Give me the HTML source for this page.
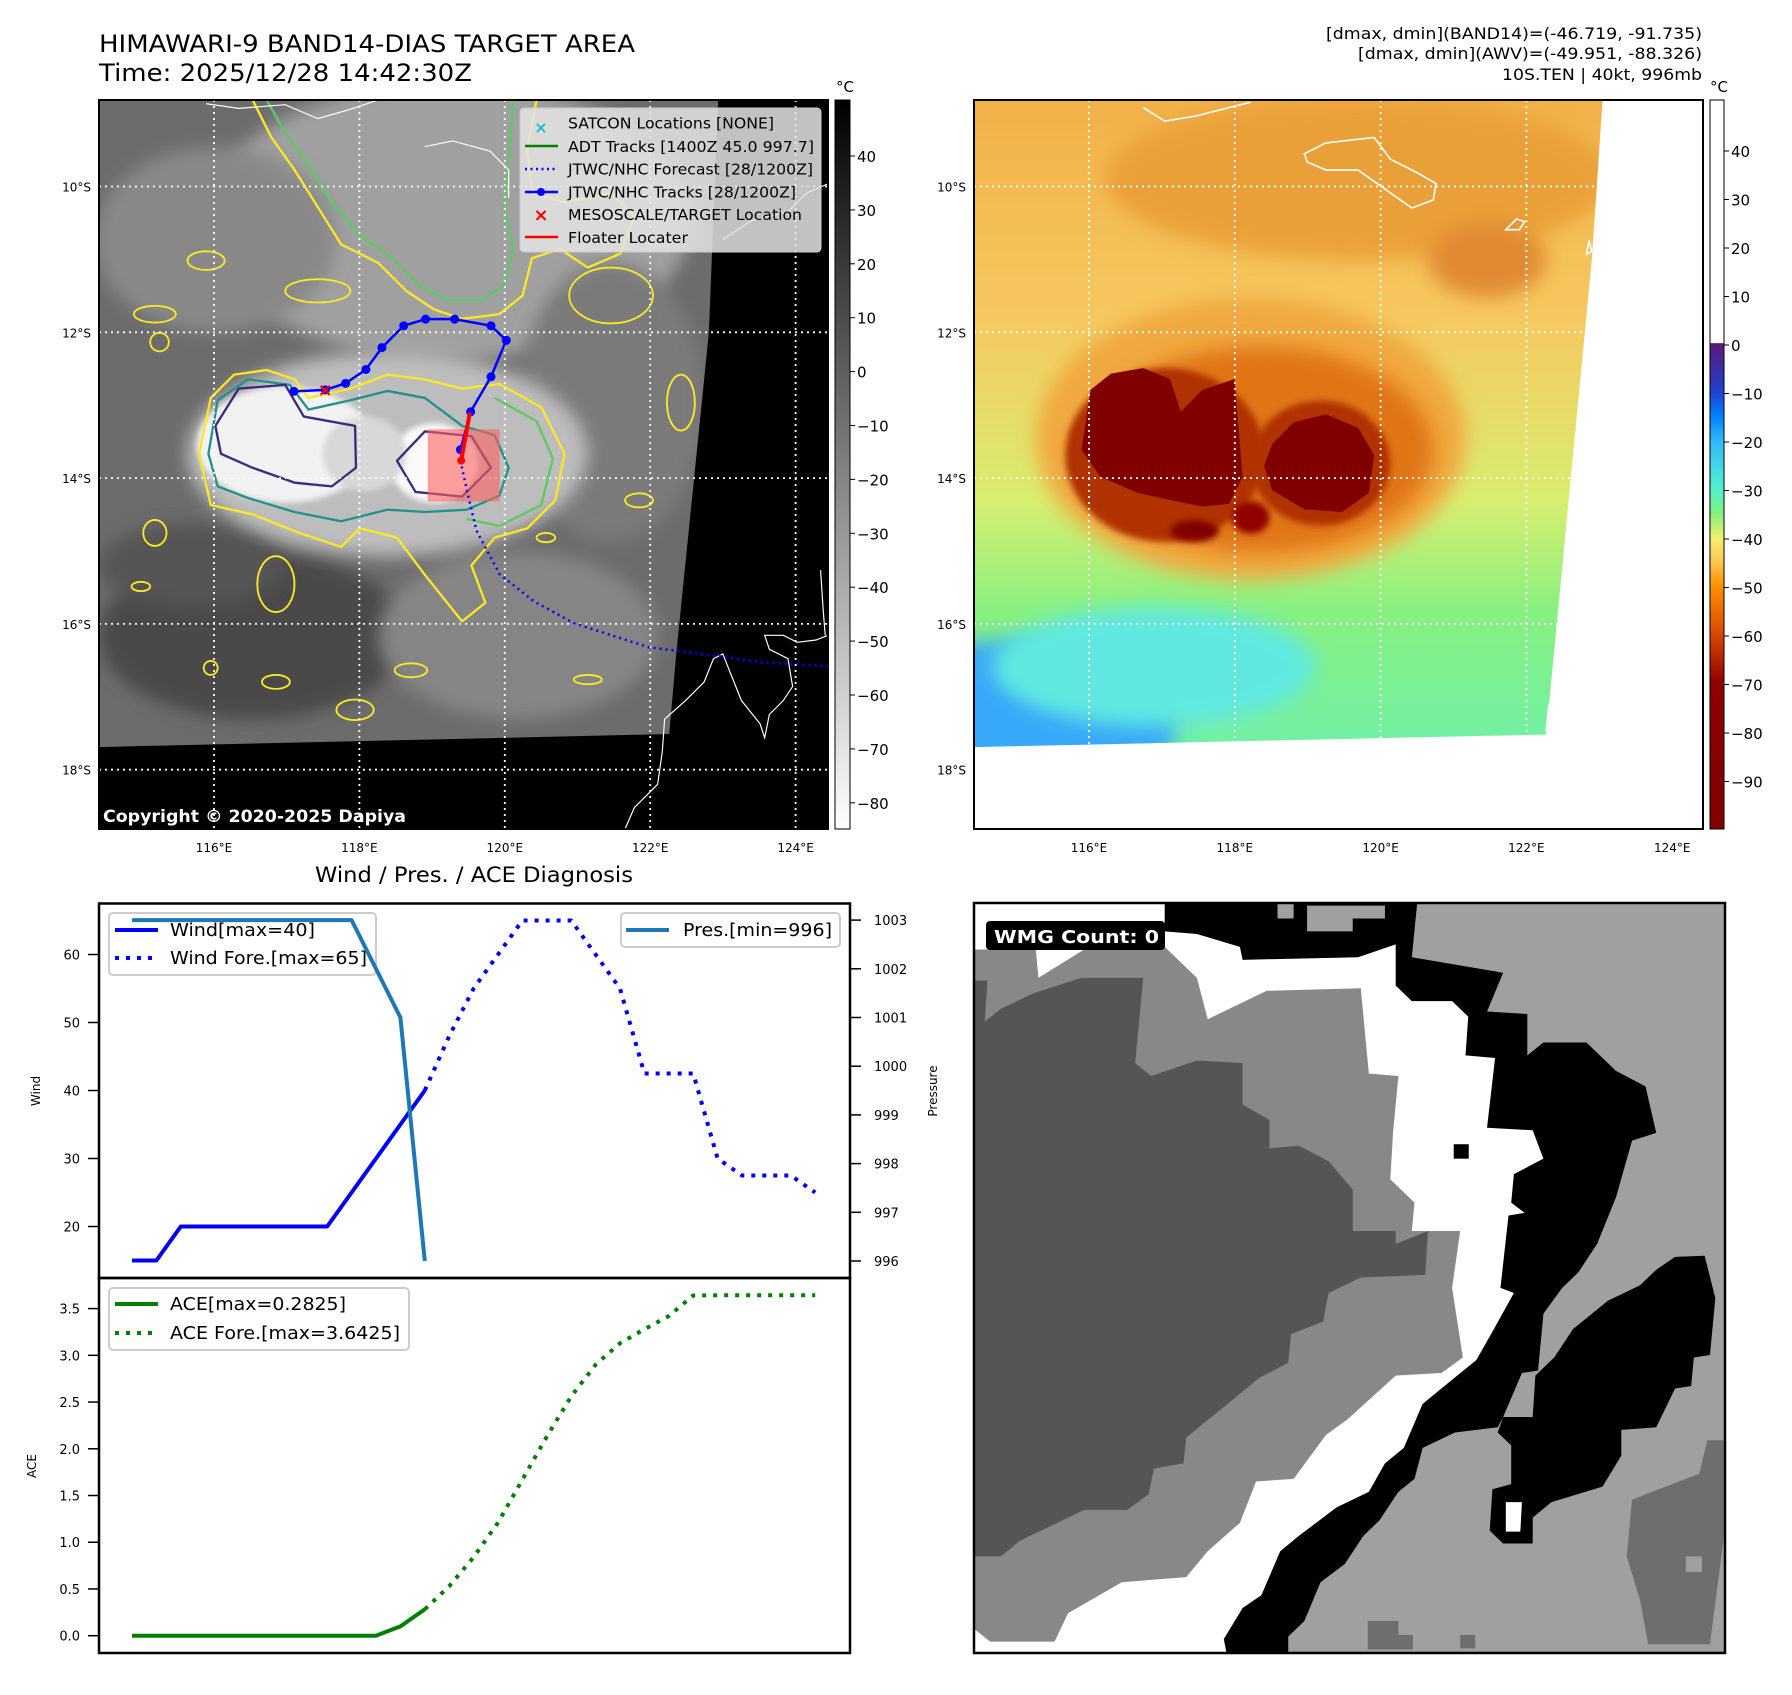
<!DOCTYPE html>
<html><head><meta charset="utf-8"><style>
html,body{margin:0;padding:0;background:#fff;}
svg text{font-family:"DejaVu Sans","Liberation Sans",sans-serif;}
</style></head><body>
<svg id="root" width="1792" height="1690" viewBox="0 0 1792 1690" xmlns="http://www.w3.org/2000/svg">
<defs>
  <filter id="blur8" x="-30%" y="-30%" width="160%" height="160%"><feGaussianBlur stdDeviation="18"/></filter>
  <filter id="blur4" x="-30%" y="-30%" width="160%" height="160%"><feGaussianBlur stdDeviation="6"/></filter>
  <linearGradient id="greyBar" x1="0" y1="0" x2="0" y2="1">
    <stop offset="0" stop-color="#000"/><stop offset="1" stop-color="#fff"/>
  </linearGradient>
  <linearGradient id="tempBar" x1="0" y1="0" x2="0" y2="1">
    <stop offset="0" stop-color="#fff"/><stop offset="0.333" stop-color="#fff"/>
    <stop offset="0.334" stop-color="#5a1a7a"/><stop offset="0.4" stop-color="#2040d0"/>
    <stop offset="0.433" stop-color="#0080ff"/><stop offset="0.467" stop-color="#30b8ff"/>
    <stop offset="0.533" stop-color="#50f0d0"/><stop offset="0.567" stop-color="#80f080"/>
    <stop offset="0.6" stop-color="#f0f070"/><stop offset="0.633" stop-color="#ffc850"/>
    <stop offset="0.667" stop-color="#ff9000"/><stop offset="0.733" stop-color="#d84800"/>
    <stop offset="0.8" stop-color="#900000"/><stop offset="1" stop-color="#800000"/>
  </linearGradient>
  <linearGradient id="rmapGrad" x1="0" y1="0" x2="0" y2="1">
    <stop offset="0" stop-color="#f2b048"/><stop offset="0.3" stop-color="#f6c860"/>
    <stop offset="0.55" stop-color="#d8ee70"/><stop offset="0.7" stop-color="#88f080"/>
    <stop offset="0.9" stop-color="#70f0a8"/><stop offset="1" stop-color="#60f0c0"/>
  </linearGradient>
  <clipPath id="lclip"><polygon points="0,0 1330,0 1310,500 1240,1190 1225,1362 0,1390"/></clipPath>
  <clipPath id="rclip"><polygon points="45,186 1215,186 1195,480 1110,1355 45,1378"/></clipPath>
</defs>

<!-- Titles -->
<text x="99" y="52" font-size="24" textLength="536" lengthAdjust="spacingAndGlyphs">HIMAWARI-9 BAND14-DIAS TARGET AREA</text>
<text x="99" y="81" font-size="24" textLength="373" lengthAdjust="spacingAndGlyphs">Time: 2025/12/28 14:42:30Z</text>
<g font-size="16" text-anchor="end">
  <text x="1702" y="39" textLength="376" lengthAdjust="spacingAndGlyphs">[dmax, dmin](BAND14)=(-46.719, -91.735)</text>
  <text x="1702" y="59" textLength="344" lengthAdjust="spacingAndGlyphs">[dmax, dmin](AWV)=(-49.951, -88.326)</text>
  <text x="1702" y="80" textLength="200" lengthAdjust="spacingAndGlyphs">10S.TEN | 40kt, 996mb</text>
</g>

<!-- LEFT MAP -->
<g>
<rect x="99" y="100" width="729" height="729" fill="#000"/>
<svg x="99" y="100" width="729" height="729" viewBox="0 0 1566 1566" preserveAspectRatio="none">
  <g clip-path="url(#lclip)">
    <rect x="0" y="0" width="1566" height="1566" fill="#6c6c6c"/>
    <ellipse cx="750" cy="260" rx="520" ry="300" fill="#a0a0a0" filter="url(#blur8)"/>
    <ellipse cx="250" cy="300" rx="260" ry="200" fill="#888" filter="url(#blur8)"/>
    <ellipse cx="1100" cy="650" rx="200" ry="300" fill="#7a7a7a" filter="url(#blur8)"/>
    <ellipse cx="330" cy="1150" rx="330" ry="180" fill="#4a4a4a" filter="url(#blur8)"/>
    <ellipse cx="200" cy="1000" rx="200" ry="90" fill="#555" filter="url(#blur8)"/>
    <ellipse cx="900" cy="1150" rx="300" ry="180" fill="#858585" filter="url(#blur8)"/>
    <ellipse cx="620" cy="760" rx="430" ry="220" fill="#bdbdbd" filter="url(#blur8)"/>
    <ellipse cx="400" cy="740" rx="190" ry="125" fill="#f2f2f2" filter="url(#blur4)"/>
    <ellipse cx="720" cy="780" rx="95" ry="85" fill="#fafafa" filter="url(#blur4)"/>
    <ellipse cx="570" cy="760" rx="90" ry="80" fill="#d8d8d8" filter="url(#blur4)"/>
  </g>
  <!-- contours -->
  <g fill="none" stroke-width="5" stroke-linejoin="round">
    <path d="M360,0 L400,70 L450,140 L500,220 L560,290 L630,340 L690,400 L750,430 L820,430 L870,400 L890,320 L870,230 L880,130 L890,0" stroke="#5ec962"/>
    <path d="M330,0 L370,80 L420,150 L470,230 L520,310 L600,350 L660,410 L720,450 L780,470 L860,460 L910,420 L930,340 L990,320 L1050,360 L1120,330 L1150,250 L1100,200 L1000,220 L930,200 L920,100 L940,0" stroke="#fde725"/>
    <path d="M215,760 L240,640 L290,590 L360,580 L420,600 L450,640 L540,620 L620,590 L700,600 L780,620 L860,610 L950,660 L1000,760 L980,860 L920,920 L850,940 L800,1000 L830,1080 L780,1120 L700,1020 L640,940 L560,920 L520,960 L430,930 L330,890 L240,870 Z" stroke="#fde725"/>
    <path d="M850,640 L940,690 L975,770 L950,870 L860,915 L790,900" stroke="#5ec962"/>
    <path d="M235,760 L255,645 L320,600 L410,612 L450,665 L540,645 L620,625 L700,640 L780,700 L850,720 L880,790 L860,850 L790,880 L700,885 L620,880 L520,905 L420,885 L320,855 L255,830 Z" stroke="#21918c"/>
    <path d="M250,700 L300,620 L400,612 L440,680 L550,700 L552,790 L500,830 L420,822 L330,790 L262,760 Z" stroke="#3b2a7e"/>
    <path d="M640,775 L700,712 L800,722 L842,790 L780,852 L680,842 Z" stroke="#3b2a7e"/>
    <g stroke="#fde725" stroke-width="4">
      <ellipse cx="120" cy="460" rx="45" ry="18"/><ellipse cx="230" cy="345" rx="40" ry="20"/>
      <ellipse cx="470" cy="410" rx="70" ry="25"/><ellipse cx="130" cy="520" rx="20" ry="20"/>
      <ellipse cx="120" cy="930" rx="25" ry="28"/><ellipse cx="380" cy="1040" rx="40" ry="60"/>
      <ellipse cx="550" cy="1310" rx="40" ry="22"/><ellipse cx="380" cy="1250" rx="30" ry="15"/>
      <ellipse cx="670" cy="1225" rx="35" ry="15"/><ellipse cx="1050" cy="1245" rx="30" ry="10"/>
      <ellipse cx="1100" cy="420" rx="90" ry="60"/><ellipse cx="1250" cy="650" rx="30" ry="60"/>
      <ellipse cx="1160" cy="860" rx="30" ry="15"/><ellipse cx="960" cy="940" rx="20" ry="10"/>
      <ellipse cx="90" cy="1045" rx="20" ry="10"/><ellipse cx="240" cy="1220" rx="15" ry="15"/>
    </g>
  </g>
  <!-- coastlines -->
  <g fill="none" stroke="#fff" stroke-width="2.5">
    <path d="M1130,1566 L1150,1520 L1200,1470 L1210,1400 L1215,1330 L1260,1290 L1300,1250 L1320,1200 L1340,1190 L1360,1240 L1380,1290 L1420,1340 L1430,1370 L1440,1320 L1470,1290 L1490,1260 L1480,1200 L1440,1180 L1430,1150 L1470,1150 L1500,1165 L1540,1160 L1566,1150"/>
    <path d="M700,100 L760,88 L840,110 L880,150 L880,210"/>
    <path d="M230,8 L300,18 L400,10 L470,40 L540,20 L600,0"/>
    <path d="M1340,300 L1400,260 L1480,240 L1520,200 L1566,180"/>
    <path d="M1550,1010 L1556,1100 L1560,1150"/>
  </g>
</svg>
<g id="lgrid" stroke="#fff" stroke-width="1.8" stroke-dasharray="2,4"></g>
<rect x="99" y="100" width="729" height="729" fill="none" stroke="#000" stroke-width="2"/>
<text x="103" y="822" font-size="17" font-weight="bold" fill="#fff" textLength="303" lengthAdjust="spacingAndGlyphs">Copyright © 2020-2025 Dapiya</text>
<g id="ltrack"></g>
</g>

<!-- Map legend -->
<g>
  <rect x="520" y="108" width="301" height="144" rx="4" fill="#e4e4e4" fill-opacity="0.85" stroke="#ccc"/>
  <g font-size="15">
    <text x="541" y="133" fill="#17becf" font-size="16" font-weight="bold" text-anchor="middle">×</text>
    <text x="568" y="128.5" textLength="206" lengthAdjust="spacingAndGlyphs">SATCON Locations [NONE]</text>
    <line x1="525" y1="146" x2="558" y2="146" stroke="#008000" stroke-width="2.5"/>
    <text x="568" y="151.8" textLength="246" lengthAdjust="spacingAndGlyphs">ADT Tracks [1400Z 45.0 997.7]</text>
    <line x1="525" y1="169" x2="558" y2="169" stroke="#0000ff" stroke-width="2.5" stroke-dasharray="2,3.5"/>
    <text x="568" y="174.5" textLength="245" lengthAdjust="spacingAndGlyphs">JTWC/NHC Forecast [28/1200Z]</text>
    <line x1="525" y1="192" x2="558" y2="192" stroke="#0000ff" stroke-width="2.5"/>
    <circle cx="541" cy="192" r="4" fill="#0000ff"/>
    <text x="568" y="197.3" textLength="228" lengthAdjust="spacingAndGlyphs">JTWC/NHC Tracks [28/1200Z]</text>
    <text x="541" y="221" fill="#ff0000" font-size="18" font-weight="bold" text-anchor="middle">×</text>
    <text x="568" y="220" textLength="234" lengthAdjust="spacingAndGlyphs">MESOSCALE/TARGET Location</text>
    <line x1="525" y1="237" x2="558" y2="237" stroke="#ff0000" stroke-width="2.5"/>
    <text x="568" y="242.8" textLength="120" lengthAdjust="spacingAndGlyphs">Floater Locater</text>
  </g>
</g>

<!-- left colorbar -->
<g>
  <rect x="835" y="100" width="15" height="729" fill="url(#greyBar)" stroke="#000" stroke-width="1"/>
  <text x="845" y="92" font-size="15" text-anchor="middle">°C</text>
  <g id="lcbticks" font-size="15"></g>
</g>

<!-- RIGHT MAP -->
<g>
<rect x="974" y="100" width="729" height="729" fill="#fff"/>
<svg x="974" y="100" width="729" height="729" viewBox="45 186 1357 1343" preserveAspectRatio="none">
  <g clip-path="url(#rclip)">
    <rect x="45" y="186" width="1357" height="1343" fill="url(#rmapGrad)"/>
    <ellipse cx="120" cy="1340" rx="300" ry="160" fill="#38a8f8" filter="url(#blur8)"/>
    <ellipse cx="380" cy="1230" rx="300" ry="110" fill="#60e8e0" filter="url(#blur8)"/>
    <ellipse cx="760" cy="330" rx="470" ry="150" fill="#eaa038" filter="url(#blur8)"/>
    <ellipse cx="1000" cy="480" rx="110" ry="70" fill="#e08a30" filter="url(#blur8)"/>
    <ellipse cx="560" cy="810" rx="400" ry="260" fill="#f0a840" filter="url(#blur8)"/>
    <ellipse cx="580" cy="830" rx="320" ry="190" fill="#e07418" filter="url(#blur8)"/>
    <ellipse cx="400" cy="840" rx="185" ry="160" fill="#b03000" filter="url(#blur4)"/>
    <ellipse cx="690" cy="855" rx="130" ry="115" fill="#b03000" filter="url(#blur4)"/>
    <path d="M262,720 L300,690 L360,680 L410,700 L430,760 L470,720 L530,700 L545,880 L520,930 L470,935 L420,925 L350,910 L280,880 L245,830 Z" fill="#800000"/>
    <path d="M600,820 L640,780 L700,765 L760,790 L790,840 L780,910 L730,945 L660,940 L600,905 L585,860 Z" fill="#800000"/>
    <ellipse cx="455" cy="980" rx="45" ry="20" fill="#800000" filter="url(#blur4)"/>
    <ellipse cx="560" cy="955" rx="35" ry="30" fill="#900000" filter="url(#blur4)"/>
  </g>
  <g fill="none" stroke="#fff" stroke-width="3">
    <path d="M660,285 L700,265 L790,255 L820,295 L870,320 L905,340 L900,370 L860,385 L810,350 L760,315 L700,315 L665,300 Z"/>
    <path d="M360,200 L400,225 L460,215 L520,200 L560,190"/>
    <path d="M1035,425 L1055,405 L1070,410 L1060,425 Z"/>
    <path d="M1190,445 L1195,465 L1185,470 Z"/>
    <path d="M1110,1350 L1115,1300 L1130,1290"/>
  </g>
</svg>
<g id="rgrid" stroke="#fff" stroke-width="1.8" stroke-dasharray="2,4"></g>
<rect x="974" y="100" width="729" height="729" fill="none" stroke="#000" stroke-width="2"/>
</g>
<g>
  <rect x="1710" y="100" width="14" height="729" fill="url(#tempBar)" stroke="#000" stroke-width="1"/>
  <text x="1719" y="92" font-size="15" text-anchor="middle">°C</text>
  <g id="rcbticks" font-size="15"></g>
</g>
<g id="latlon" font-size="12"></g>

<!-- LOWER CHART -->
<text x="474" y="882" font-size="21" text-anchor="middle" textLength="318" lengthAdjust="spacingAndGlyphs">Wind / Pres. / ACE Diagnosis</text>
<g>
  <rect x="109" y="913" width="267" height="62" rx="4" fill="#fff" fill-opacity="0.8" stroke="#ccc" stroke-width="2"/>
  <line x1="115" y1="930" x2="158" y2="930" stroke="#0000ff" stroke-width="4"/>
  <text x="170" y="936" font-size="18" textLength="145" lengthAdjust="spacingAndGlyphs">Wind[max=40]</text>
  <line x1="115" y1="958" x2="158" y2="958" stroke="#0000ff" stroke-width="4" stroke-dasharray="4,7"/>
  <text x="170" y="964" font-size="18" textLength="197" lengthAdjust="spacingAndGlyphs">Wind Fore.[max=65]</text>
</g>
<g id="chart"></g>
<rect x="99" y="903.5" width="751" height="374.5" fill="none" stroke="#000" stroke-width="2.5"/>
<rect x="99" y="1278" width="751" height="375" fill="none" stroke="#000" stroke-width="2.5"/>
<text transform="translate(40,1091) rotate(-90)" font-size="12" text-anchor="middle">Wind</text>
<text transform="translate(937,1091) rotate(-90)" font-size="12" text-anchor="middle">Pressure</text>
<text transform="translate(36,1466) rotate(-90)" font-size="12" text-anchor="middle">ACE</text>

<g>
  <rect x="621" y="913" width="219" height="34" rx="4" fill="#fff" fill-opacity="0.8" stroke="#ccc" stroke-width="2"/>
  <line x1="626" y1="930" x2="669" y2="930" stroke="#1f77b4" stroke-width="4"/>
  <text x="683" y="936" font-size="18" textLength="149" lengthAdjust="spacingAndGlyphs">Pres.[min=996]</text>
</g>
<g>
  <rect x="109" y="1288" width="300" height="62" rx="4" fill="#fff" fill-opacity="0.8" stroke="#ccc" stroke-width="2"/>
  <line x1="115" y1="1304" x2="158" y2="1304" stroke="#008000" stroke-width="4"/>
  <text x="170" y="1310" font-size="18" textLength="176" lengthAdjust="spacingAndGlyphs">ACE[max=0.2825]</text>
  <line x1="115" y1="1333" x2="158" y2="1333" stroke="#008000" stroke-width="4" stroke-dasharray="4,7"/>
  <text x="170" y="1339" font-size="18" textLength="230" lengthAdjust="spacingAndGlyphs">ACE Fore.[max=3.6425]</text>
</g>

<!-- WMG panel -->
<g>
<svg x="974" y="903" width="751" height="750" viewBox="45 45 1398 1452" preserveAspectRatio="none">
  <rect x="45" y="45" width="1398" height="1452" fill="#a0a0a0"/>
  <polygon fill="#000" points="45,45 870,45 860,150 1030,180 1000,255 1075,260 1075,340 1105,315 1185,315 1240,370 1295,400 1315,490 1270,505 1240,615 1205,705 1170,760 1140,790 1105,840 1095,950 1065,955 1030,1040 1020,1060 940,1070 880,1100 865,1160 835,1185 800,1240 770,1270 735,1325 690,1360 660,1435 630,1465 630,1497 45,1497"/>
  <polygon fill="#a0a0a0" points="610,45 640,45 640,75 610,75"/><polygon fill="#a0a0a0" points="665,50 810,50 810,75 750,75 750,100 665,100"/>
  <polygon fill="#fff" points="45,45 400,45 400,100 460,105 540,130 545,155 760,150 830,125 830,205 860,235 935,235 965,265 960,340 1015,345 1000,480 1085,485 1105,540 1050,570 1045,625 1070,645 1040,650 1025,790 1050,800 1010,875 980,930 915,985 880,1015 845,1100 810,1130 780,1185 720,1215 650,1270 615,1300 580,1385 545,1410 510,1470 515,1497 45,1497"/>
  <polygon fill="#000" points="1015,315 1045,315 1045,345 1015,345"/>
  <polygon fill="#000" points="938,512 966,512 966,540 938,540"/>
  <polygon fill="#888" points="45,135 160,135 165,190 250,135 400,130 460,190 480,270 590,215 765,210 780,375 835,380 825,490 820,580 865,625 860,680 950,680 935,790 955,925 915,955 830,960 740,1045 700,1075 640,1160 570,1165 540,1245 480,1300 440,1350 320,1360 220,1420 195,1475 75,1475 45,1450"/>
  <polygon fill="#555" points="45,195 70,195 65,275 95,250 155,220 245,190 360,190 345,355 375,380 460,350 545,355 545,435 595,465 595,520 650,515 705,545 750,600 750,680 830,680 830,705 890,680 885,765 765,770 705,800 695,855 635,880 630,935 575,965 540,995 505,1025 475,1050 440,1080 435,1130 380,1140 370,1190 330,1220 250,1220 130,1280 95,1310 45,1310"/>
  <polygon fill="#000" points="1350,730 1405,728 1425,810 1415,920 1385,925 1380,980 1350,985 1315,1060 1250,1065 1250,1115 1215,1175 1120,1205 1085,1235 1085,1285 1030,1285 1005,1260 1010,1180 1045,1170 1045,1095 1020,1070 1030,1040 1085,1040 1090,960 1125,925 1160,870 1225,815 1285,785 1315,755"/>
  <polygon fill="#fff" points="1035,1205 1065,1205 1062,1262 1035,1262"/>
  <polygon fill="#6e6e6e" points="1270,1200 1395,1150 1410,1085 1440,1085 1440,1280 1415,1480 1300,1480 1285,1395 1260,1310"/>
  <polygon fill="#a0a0a0" points="1370,1310 1400,1310 1400,1340 1370,1340"/>
  <polygon fill="#6e6e6e" points="778,1435 835,1435 835,1462 862,1462 862,1490 778,1490"/>
  <polygon fill="#6e6e6e" points="950,1462 978,1462 978,1488 950,1488"/>
</svg>
<rect x="974" y="903" width="751" height="750" fill="none" stroke="#000" stroke-width="2.5"/>
<rect x="986" y="921" width="179" height="29" rx="4" fill="#000"/>
<text x="994" y="943" font-size="18" font-weight="bold" fill="#fff" textLength="165" lengthAdjust="spacingAndGlyphs">WMG Count: 0</text>
</g>
</svg>

<script>
const NS = 'http://www.w3.org/2000/svg';
// ---- chart data ----
const windObs = [15,15,20,20,20,20,20,20,20,25,30,35,40];
const windFore = [40,48,55,60,65,65,65,60,55,42.5,42.5,42.5,30,27.5,27.5,27.5,25];
const presObs = [1003,1003,1003,1003,1003,1003,1003,1003,1003,1003,1002,1001,996];
const aceObs = [0,0,0,0,0,0,0,0,0,0,0,0.1,0.2825];
const aceFore = [0.2825,0.53,0.84,1.21,1.67,2.13,2.56,2.9,3.13,3.28,3.42,3.64,3.6425,3.6425,3.6425,3.6425,3.6425];
const windTicks = [20,30,40,50,60];
const presTicks = [996,997,998,999,1000,1001,1002,1003];
const aceTicks = [0,0.5,1.0,1.5,2.0,2.5,3.0,3.5];
// ---- map track data (lon, lat) ----
const trackLon = [117.10,117.53,117.81,118.09,118.31,118.61,118.91,119.31,119.81,120.02,119.81,119.53,119.39];
const trackLat = [-12.81,-12.79,-12.70,-12.51,-12.21,-11.91,-11.82,-11.82,-11.91,-12.11,-12.61,-13.09,-13.61];
const foreLon = [119.39,119.47,119.61,119.93,120.40,120.95,121.98,122.93,123.56,124.45];
const foreLat = [-13.76,-14.13,-14.72,-15.32,-15.69,-15.99,-16.32,-16.44,-16.53,-16.58];
const lonTicks = [116,118,120,122,124];
const latTicks = [-10,-12,-14,-16,-18];
const irCbTicks = [40,30,20,10,0,-10,-20,-30,-40,-50,-60,-70,-80];
const tempCbTicks = [40,30,20,10,0,-10,-20,-30,-40,-50,-60,-70,-80,-90];

function mk(tag, attrs, parent){ const e=document.createElementNS(NS,tag); for(const k in attrs) e.setAttribute(k,attrs[k]); parent.appendChild(e); return e; }
const fmtMinus = v => String(v).replace('-', '\u2212');

const xIdx = i => 132 + i*24.4;
const yWind = w => 1226.5 - (w-20)*6.8;
const yPres = p => 1261 - (p-996)*48.7;
const yAce = a => 1635.7 - a*93.46;

const chart = document.getElementById('chart');
function line(vals, start, yf, color, dashed, name){
  const d = vals.map((v,i)=>(i?'L':'M')+xIdx(start+i).toFixed(1)+','+yf(v).toFixed(1)).join(' ');
  const p = mk('path',{d:d,fill:'none',stroke:color,'stroke-width':4,'stroke-linejoin':'round'},chart);
  if(dashed) p.setAttribute('stroke-dasharray','4,7');
  
  
}
line(windObs,0,yWind,'#0000ff',false,'wind-observed-line');
line(windFore,12,yWind,'#0000ff',true,'wind-forecast-line');
line(presObs,0,yPres,'#1f77b4',false,'pressure-line');
line(aceObs,0,yAce,'#008000',false,'ace-observed-line');
line(aceFore,12,yAce,'#008000',true,'ace-forecast-line');

function ticks(list, yf, side, fmt, name){
  const g = mk('g',{'font-size':13},chart);
  
  
  list.forEach(v=>{
    const y=yf(v);
    if(side==='l'){ mk('line',{x1:88,x2:99,y1:y,y2:y,stroke:'#000','stroke-width':1.5},g);
      const t=mk('text',{x:80,y:y+5,'text-anchor':'end'},g); t.textContent=fmt(v); }
    else { mk('line',{x1:850,x2:861,y1:y,y2:y,stroke:'#000','stroke-width':1.5},g);
      const t=mk('text',{x:874,y:y+5},g); t.textContent=fmt(v); }
  });
}
ticks(windTicks,yWind,'l',v=>String(v),'wind-y-ticks');
ticks(presTicks,yPres,'r',v=>String(v),'pressure-y-ticks');
ticks(aceTicks,yAce,'l',v=>v.toFixed(1),'ace-y-ticks');

const lx = lon => 214 + (lon-116)*72.7;
const ly = lat => 186.5 + (-lat-10)*72.9;
const rx = lon => 1089 + (lon-116)*72.9;
const lgrid=document.getElementById('lgrid'), rgrid=document.getElementById('rgrid'), ll=document.getElementById('latlon');
lonTicks.forEach(lon=>{
  mk('line',{x1:lx(lon),x2:lx(lon),y1:100,y2:829},lgrid);
  mk('line',{x1:rx(lon),x2:rx(lon),y1:100,y2:829},rgrid);
  let t=mk('text',{x:lx(lon),y:852,'text-anchor':'middle'},ll); t.textContent=lon+'°E';
  t=mk('text',{x:rx(lon),y:852,'text-anchor':'middle'},ll); t.textContent=lon+'°E';
});
latTicks.forEach(lat=>{
  mk('line',{x1:99,x2:828,y1:ly(lat),y2:ly(lat)},lgrid);
  mk('line',{x1:974,x2:1703,y1:ly(lat),y2:ly(lat)},rgrid);
  let t=mk('text',{x:91,y:ly(lat)+5,'text-anchor':'end'},ll); t.textContent=(-lat)+'°S';
  t=mk('text',{x:966,y:ly(lat)+5,'text-anchor':'end'},ll); t.textContent=(-lat)+'°S';
});
const lcb=document.getElementById('lcbticks');
irCbTicks.forEach(v=>{ const y=156+(40-v)*5.39; mk('line',{x1:850,x2:855,y1:y,y2:y,stroke:'#000'},lcb);
  const t=mk('text',{x:857,y:y+6},lcb); t.textContent=fmtMinus(v); });
const rcb=document.getElementById('rcbticks');
tempCbTicks.forEach(v=>{ const y=151+(40-v)*4.85; mk('line',{x1:1724,x2:1729,y1:y,y2:y,stroke:'#000'},rcb);
  const t=mk('text',{x:1731,y:y+6},rcb); t.textContent=fmtMinus(v); });

const tr=document.getElementById('ltrack');
const box=mk('rect',{x:lx(118.94),y:ly(-13.33),width:lx(119.93)-lx(118.94),height:ly(-14.32)-ly(-13.33),fill:'#ff6060','fill-opacity':0.6},tr);


const fp=mk('path',{d:foreLon.map((v,i)=>(i?'L':'M')+lx(v)+','+ly(foreLat[i])).join(' '),fill:'none',stroke:'#0000ff','stroke-width':2.5,'stroke-dasharray':'2,4'},tr);


const tp=mk('path',{d:trackLon.map((v,i)=>(i?'L':'M')+lx(v)+','+ly(trackLat[i])).join(' '),fill:'none',stroke:'#0000ff','stroke-width':2.5},tr);


trackLon.forEach((v,i)=>{ const c=mk('circle',{cx:lx(v),cy:ly(trackLat[i]),r:4.5,fill:'#0000ff'},tr);
  
   });
const fl=mk('line',{x1:lx(119.52),y1:ly(-13.10),x2:lx(119.40),y2:ly(-13.76),stroke:'#ff0000','stroke-width':4},tr);


mk('circle',{cx:lx(119.40),cy:ly(-13.76),r:4,fill:'#ff0000'},tr);
const mx=mk('text',{x:lx(117.53),y:ly(-12.79)+6,fill:'#ff0000','font-size':18,'font-weight':'bold','text-anchor':'middle'},tr);
mx.textContent='×';


</script>
</body></html>
